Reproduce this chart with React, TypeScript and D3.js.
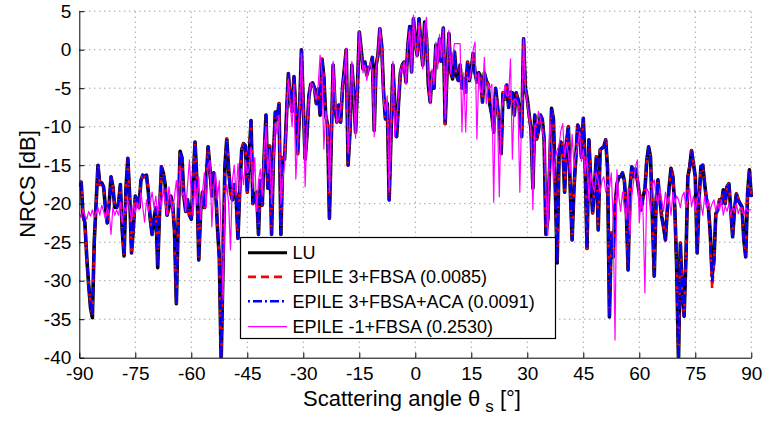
import React, { useEffect, useRef } from 'react';
import * as d3 from 'd3';

// scattering angle grid, 0.5 deg steps from -90 to 90
const angleStep = 0.5;
const angles = d3.range(-90, 90 + angleStep / 2, angleStep);

const xTicks = [-90, -75, -60, -45, -30, -15, 0, 15, 30, 45, 60, 75, 90];
const yTicks = [-40, -35, -30, -25, -20, -15, -10, -5, 0, 5];

const seriesNames = [
  'LU',
  'EPILE 3+FBSA (0.0085)',
  'EPILE 3+FBSA+ACA (0.0091)',
  'EPILE -1+FBSA (0.2530)',
];

// NRCS [dB], one value per 0.5 deg
const lu = [
  -17.8, -17.2, -21.5, -22.5, -27, -30.5, -33.5, -34.8, -25, -20,
  -15, -17.5, -17.3, -17.8, -20.5, -22.5, -20, -16.5, -17.8, -20.5,
  -20.5, -20, -17.5, -23.5, -26.8, -18, -14.1, -19, -26.4, -23,
  -19, -19.5, -20.5, -17, -16.3, -16.5, -16.3, -18.5, -22, -24,
  -22, -20.5, -28.3, -21, -15.2, -16, -17.5, -21.5, -20.5, -19,
  -20, -23.5, -33, -22, -13.2, -14, -19, -21, -19.5, -21.5,
  -22, -17, -12, -17, -27.3, -21, -18.5, -20.5, -17, -12.6,
  -15.5, -19, -16, -18, -23, -27, -40.5, -28, -15.2, -11.6,
  -15.5, -18.5, -19.5, -17.5, -19, -24.5, -18, -13, -12.2, -12.5,
  -18.5, -14, -9.2, -20, -19, -18.5, -24, -17, -20.2, -14,
  -8.5, -18, -12.5, -24, -14, -8.1, -9, -7, -24, -14,
  -14.2, -8.5, -3.1, -6.6, -8, -3.5, -8, -13.5, -8, 0,
  -7.2, -14.2, -11, -6, -4.5, -4.3, -5, -7, -5.1, -8.5,
  -1.2, -3.5, -8.5, -9.8, -21.9, -11.6, -2, -7.5, -9.4, -7.2,
  -9.4, -5, -2.5, 0, -15, -10.7, -2, -5.5, -10.7, -5,
  2.3, 0, -2.5, -1.6, -3.3, -2.3, -2.3, -1, -10.5, -2,
  -0.7, 2.7, 0.5, -5.5, -9, -7, -19.5, -11, -2, -7,
  -11.3, -7, -3, -2, -1.6, -4.2, 0.5, 3, -2.9, 4,
  1, -0.7, 4, 0.6, -2, 3.6, 1.5, -4.6, -6.8, -2.9,
  -5, 0.6, -1.6, 1.4, -1.5, 2.8, -9.6, -3, 2.1, -2.9,
  -3.8, -0.3, -3.3, -4, -2, -5, -3.8, -5.5, -1.6, -4,
  -2.5, -0.5, -3, -4.2, -3, -3.5, -6.8, -3, -4, -4.5,
  -7.2, -8.5, -10.7, -5, -7.2, -9.8, -13.5, -5.6, -6.4, -4.6,
  -7.5, -5.5, -5.6, -8.5, -5.6, -6.4, -8.2, -11.3, 1.4, -5,
  -6.4, -8.5, -10.3, -18, -8.5, -11.6, -10.5, -8.5, -9, -11.6,
  -24, -22, -15, -7.6, -9, -18, -27.7, -13.7, -12, -12.4,
  -18.5, -12, -10, -18, -24.7, -18, -14, -9.8, -10.5, -14,
  -8.9, -15.2, -25.8, -11.7, -17, -21.2, -17.8, -13.9, -23.4, -13,
  -12.8, -12.6, -11.7, -15.5, -34.7, -23.8, -26.9, -20.4, -17.5, -16.5,
  -16.5, -16, -17, -20.5, -28.6, -18, -15.2, -16.5, -15.5, -17,
  -18.7, -20.8, -19.1, -18.2, -14.4, -12.6, -13.9, -21.7, -29.4, -19.5,
  -16.9, -19.5, -21.7, -23, -24.7, -20.8, -17.8, -15.4, -16.5, -20.4,
  -28.1, -40.5, -25.1, -31.6, -34.6, -26.9, -16.5, -15.2, -13.1, -14.8,
  -16.5, -26.4, -19.5, -15.2, -15, -17.4, -19.5, -20.4, -23.8, -29.4,
  -27.3, -21.3, -20.8, -19.5, -20, -18.2, -20, -17.8, -17.4, -20.8,
  -24.3, -20.8, -18.7, -19.5, -20, -20.4, -24.7, -26.9, -18.7, -15.6,
  -19.1,
];

const epile3 = [
  -17.8, -17.2, -21.5, -22.5, -27, -30.5, -33.2, -34.3, -25, -20,
  -15, -17.5, -17.3, -17.8, -20.5, -22.5, -20, -16.5, -17.8, -20.5,
  -20.5, -20, -17.5, -23.5, -26.5, -18, -14.1, -19, -26.2, -23,
  -19, -19.5, -20.5, -17, -16.3, -16.5, -16.3, -18.5, -22, -24,
  -22, -20.5, -28, -21, -15.2, -16, -17.5, -21.5, -20.5, -19,
  -20, -23.5, -33, -22, -13.2, -14, -19, -21, -19.5, -21.5,
  -22, -17, -12, -17, -27.3, -21, -18.5, -20.5, -17, -12.6,
  -15.5, -19, -16, -18, -23, -27, -40.5, -28, -15.2, -11.6,
  -15.5, -18.5, -19.5, -17.5, -19, -24.5, -18, -13, -12.2, -12.5,
  -18.5, -14, -9.2, -20, -19, -18.5, -24, -17, -20.2, -14,
  -8.5, -18, -12.5, -24, -14, -8.1, -9, -7, -24, -14,
  -14.2, -8.5, -3.1, -6.6, -8, -3.5, -8, -13.5, -8, 0,
  -7.2, -14.2, -11, -6, -4.5, -4.3, -5, -7, -5.1, -8.5,
  -1.2, -3.5, -8.5, -9.8, -21.9, -11.6, -2, -7.5, -9.4, -7.2,
  -9.4, -5, -2.5, 0, -15, -10.7, -2, -5.5, -10.7, -5,
  2.3, 0, -2.5, -1.6, -3.3, -2.3, -2.3, -1, -10.5, -2,
  -0.7, 2.7, 0.5, -5.5, -9, -7, -19.5, -11, -2, -7,
  -11.3, -7, -3, -2, -1.6, -4.2, 0.5, 3, -2.9, 4,
  1, -0.7, 4, 0.6, -2, 3.6, 1.5, -4.6, -6.8, -2.9,
  -5, 0.6, -1.6, 1.4, -1.5, 2.8, -9.6, -3, 2.1, -2.9,
  -3.8, -0.3, -3.3, -4, -2, -5, -3.8, -5.5, -1.6, -4,
  -2.5, -0.5, -3, -4.2, -3, -3.5, -6.8, -3, -4, -4.5,
  -7.2, -8.5, -10.7, -5, -7.2, -9.8, -13.5, -5.6, -6.4, -4.6,
  -7.5, -5.5, -5.6, -8.5, -5.6, -6.4, -8.2, -11.3, 1.4, -5,
  -6.4, -8.5, -10.3, -18, -8.5, -11.6, -10.5, -8.5, -9, -11.6,
  -24, -22, -15, -7.6, -9, -18, -27.7, -13.7, -12, -12.4,
  -18.5, -12, -10, -18, -24.7, -18, -14, -9.8, -10.5, -14,
  -8.9, -15.2, -25.8, -11.7, -17, -21.2, -17.8, -13.9, -23.4, -13,
  -12.8, -12.6, -11.7, -15.5, -34.5, -23.8, -26.9, -20.4, -17.5, -16.5,
  -16.5, -16, -17, -20.5, -28.6, -18, -15.2, -16.5, -15.5, -17,
  -18.7, -20.8, -19.1, -18.2, -14.4, -12.6, -13.9, -21.7, -29.4, -19.5,
  -16.9, -19.5, -21.7, -23, -24.7, -20.8, -17.8, -15.4, -16.5, -20.4,
  -28.1, -40.5, -25.1, -31.6, -34.6, -26.9, -16.5, -15.2, -13.1, -14.8,
  -16.5, -26.4, -19.5, -15.2, -15, -17.4, -19.5, -20.4, -24.5, -31,
  -28, -21.3, -20.8, -19.5, -20, -18.2, -20, -17.8, -17.4, -20.8,
  -24.3, -20.8, -18.7, -19.5, -20, -20.4, -24.7, -26.9, -18.7, -15.6,
  -19.1,
];

const epile3Aca = [
  -17.8, -17.2, -21.5, -22.5, -27, -30.5, -33.3, -34.5, -25, -20,
  -15, -17.5, -17.3, -17.8, -20.5, -22.5, -20, -16.5, -17.8, -20.5,
  -20.5, -20, -17.5, -23.5, -26.6, -18, -14.1, -19, -26.3, -23,
  -19, -19.5, -20.5, -17, -16.3, -16.5, -16.3, -18.5, -22, -24,
  -22, -20.5, -28.2, -21, -15.2, -16, -17.5, -21.5, -20.5, -19,
  -20, -23.5, -33, -22, -13.2, -14, -19, -21, -19.5, -21.5,
  -22, -17, -12, -17, -27.3, -21, -18.5, -20.5, -17, -12.6,
  -15.5, -19, -16, -18, -23, -27, -40.5, -28, -15.2, -11.6,
  -15.5, -18.5, -19.5, -17.5, -19, -24.5, -18, -13, -12.2, -12.5,
  -18.5, -14, -9.2, -20, -19, -18.5, -24, -17, -20.2, -14,
  -8.5, -18, -12.5, -24, -14, -8.1, -9, -7, -24, -14,
  -14.2, -8.5, -3.1, -6.6, -8, -3.5, -8, -13.5, -8, 0,
  -7.2, -14.2, -11, -6, -4.5, -4.3, -5, -7, -5.1, -8.5,
  -1.2, -3.5, -8.5, -9.8, -21.9, -11.6, -2, -7.5, -9.4, -7.2,
  -9.4, -5, -2.5, 0, -15, -10.7, -2, -5.5, -10.7, -5,
  2.3, 0, -2.5, -1.6, -3.3, -2.3, -2.3, -1, -10.5, -2,
  -0.7, 2.7, 0.5, -5.5, -9, -7, -19.5, -11, -2, -7,
  -11.3, -7, -3, -2, -1.6, -4.2, 0.5, 3, -2.9, 4,
  1, -0.7, 4, 0.6, -2, 3.6, 1.5, -4.6, -6.8, -2.9,
  -5, 0.6, -1.6, 1.4, -1.5, 2.8, -9.6, -3, 2.1, -2.9,
  -3.8, -0.3, -3.3, -4, -2, -5, -3.8, -5.5, -1.6, -4,
  -2.5, -0.5, -3, -4.2, -3, -3.5, -6.8, -3, -4, -4.5,
  -7.2, -8.5, -10.7, -5, -7.2, -9.8, -13.5, -5.6, -6.4, -4.6,
  -7.5, -5.5, -5.6, -8.5, -5.6, -6.4, -8.2, -11.3, 1.4, -5,
  -6.4, -8.5, -10.3, -18, -8.5, -11.6, -10.5, -8.5, -9, -11.6,
  -24, -22, -15, -7.6, -9, -18, -27.7, -13.7, -12, -12.4,
  -18.5, -12, -10, -18, -24.7, -18, -14, -9.8, -10.5, -14,
  -8.9, -15.2, -25.8, -11.7, -17, -21.2, -17.8, -13.9, -23.4, -13,
  -12.8, -12.6, -11.7, -15.5, -34.6, -23.8, -26.9, -20.4, -17.5, -16.5,
  -16.5, -16, -17, -20.5, -28.6, -18, -15.2, -16.5, -15.5, -17,
  -18.7, -20.8, -19.1, -18.2, -14.4, -12.6, -13.9, -21.7, -29.4, -19.5,
  -16.9, -19.5, -21.7, -23, -24.7, -20.8, -17.8, -15.4, -16.5, -20.4,
  -28.1, -40.5, -25.1, -31.6, -34.6, -26.9, -16.5, -15.2, -13.1, -14.8,
  -16.5, -26.4, -19.5, -15.2, -15, -17.4, -19.5, -20.4, -24, -30,
  -27.6, -21.3, -20.8, -19.5, -20, -18.2, -20, -17.8, -17.4, -20.8,
  -24.3, -20.8, -18.7, -19.5, -20, -20.4, -24.7, -26.9, -18.7, -15.6,
  -19.1,
];

const epileM1 = [
  -21.2, -21.8, -20.8, -21.5, -22, -21, -21.6, -20.8, -21.8, -21.2,
  -20.5, -21.5, -20.2, -21, -22, -20.5, -21.2, -24, -20.5, -21.5,
  -20.8, -21.5, -19.8, -22.5, -20.5, -21, -19.5, -20.5, -22.3, -20,
  -21.2, -19.8, -20.8, -18.5, -20.5, -22.4, -19.5, -21, -20, -18.5,
  -20.5, -19, -21.5, -19, -20.5, -18, -20, -21.5, -17.8, -19.5,
  -21, -19, -17, -20.5, -15.4, -19, -18.5, -21, -17.5, -14.3,
  -19, -21.5, -17, -20, -16.5, -22, -18.5, -16, -20.5, -15,
  -14.4, -23, -18, -16, -19.5, -17, -24, -32.5, -19.5, -17.5,
  -20, -26, -17, -15, -19, -14.8, -18.5, -15.5, -17.5, -14.3,
  -16, -15.5, -12.6, -18, -14, -21, -17, -15.5, -19, -13,
  -10, -16, -13, -20, -15, -9.5, -11, -8.5, -20, -16.8,
  -15, -9, -3.8, -7, -10, -4.5, -16.8, -12, -7.5, -0.5,
  -8, -17.8, -10, -6.5, -4.3, -4.5, -5.5, -6.5, -4.5, -0.7,
  -3, -12.9, -8, -10, -18.5, -10, -1.5, -5.5, -9.5, -9,
  -7.5, -4.5, -3, 0.2, -13.5, -9, -1.5, -6, -11.5, -4.5,
  2.3, -0.3, -3, -2, -4, -2.5, -1.5, -3, -11.3, -2.5,
  -0.5, 2.9, 0, -7, -8, -6, -18.5, -10, -1.5, -11.3,
  -9, -6, -2.5, -3, -1.5, -4.5, 0.8, 2.5, -3, 4.5,
  0.5, -1, 3.5, 0.2, -2.5, 3, 4.2, -4, -7, -2.5,
  -4.5, 1, -2.5, 2, -1, 2.8, -9, -2.5, 2.5, -3,
  -1, 0.8, 0.8, 0.8, 0.8, -10.7, -3, -10.7, -3.5, -4,
  -2.5, 0, 1, -11.6, -3, -5.5, -5.6, -1, -7, -4.5,
  -5, -4.5, -19.8, -6, -8, -19.1, -8, -6.4, -4.6, -6,
  -6, -1.2, -14.2, -6.4, -6.5, -7, -18.5, -8, 1.4, -5,
  -7, -9, -10.5, -20.8, -10, -9.5, -8, -9, -10.5, -11.6,
  -18.5, -24.1, -9, -12, -17, -14, -13, -12.5, -10.5, -9.6,
  -14, -12, -13.5, -16, -11, -15, -13.5, -12.5, -10.7, -14.5,
  -13, -16, -14, -19.5, -16, -17.5, -18.5, -16, -17, -18.6,
  -17, -16.5, -18.5, -17.5, -18, -16, -22, -37.7, -15.6, -19,
  -21, -18.5, -20.5, -22, -18, -24, -19, -17, -15.2, -14.3,
  -22.5, -19, -21, -31.6, -18, -18.5, -21, -17.5, -16.9, -19,
  -20, -18, -19.5, -21, -18.5, -20, -19, -21.5, -18.5, -20,
  -19, -19.5, -20.5, -19, -18.5, -20.5, -19.5, -18, -20.4, -19,
  -21, -19.5, -18.5, -20, -21.5, -19, -20.5, -19.5, -20.8, -20,
  -19.5, -21, -20, -20.8, -19.5, -21.5, -20.3, -21, -20, -21.5,
  -20.5, -21, -20, -21.3, -20.5, -20.8, -21.5, -20.5, -21, -20.8,
  -20.8,
];

const FONT = "'Liberation Sans', Arial, Helvetica, sans-serif";

export default function App() {
  const svgRef = useRef(null);

  useEffect(() => {
    if (!svgRef.current) return;
    const width = 764;
    const height = 421;

    d3.select(svgRef.current).selectAll('*').remove();
    const svg = d3.select(svgRef.current)
      .attr('width', width)
      .attr('height', height);

    const x = d3.scaleLinear().domain([-90, 90]).range([79.3, 751.3]);
    const y = d3.scaleLinear().domain([-40, 5]).range([357.7, 11.2]);

    svg.append('rect').attr('width', width).attr('height', height).attr('fill', '#fff');

    // dotted grid
    const grid = svg.append('g')
      .attr('stroke', '#7a7a7a')
      .attr('stroke-width', 1)
      .attr('stroke-dasharray', '1,4');
    grid.selectAll('.vg')
      .data(xTicks.slice(1))
      .enter()
      .append('line')
      .attr('x1', d => x(d)).attr('x2', d => x(d))
      .attr('y1', y(-40)).attr('y2', y(5));
    grid.selectAll('.hg')
      .data(yTicks.slice(1))
      .enter()
      .append('line')
      .attr('x1', x(-90)).attr('x2', x(90))
      .attr('y1', d => y(d)).attr('y2', d => y(d));

    // plot data
    svg.append('clipPath').attr('id', 'plot-clip')
      .append('rect')
      .attr('x', x(-90)).attr('y', y(5) - 2)
      .attr('width', x(90) - x(-90) + 2)
      .attr('height', y(-40) - y(5) + 2);

    const line = d3.line()
      .x((d, i) => x(angles[i]))
      .y(d => y(d));

    const styles = [
      { values: lu, color: '#000000', width: 3.6, dash: null },
      { values: epile3, color: '#ff0000', width: 2.6, dash: '8,5' },
      { values: epile3Aca, color: '#0000ff', width: 2.6, dash: '2,3,9,3' },
      { values: epileM1, color: '#ff00ff', width: 1.2, dash: null },
    ];

    const plot = svg.append('g').attr('clip-path', 'url(#plot-clip)');
    styles.forEach(s => {
      plot.append('path')
        .datum(s.values)
        .attr('d', line)
        .attr('fill', 'none')
        .attr('stroke', s.color)
        .attr('stroke-width', s.width)
        .attr('stroke-linejoin', 'round')
        .attr('stroke-dasharray', s.dash);
    });

    // axes (plain hyphen minus in labels)
    const fmt = d => String(d);
    const xAxis = svg.append('g')
      .attr('transform', `translate(0,${y(-40)})`)
      .call(d3.axisBottom(x).tickValues(xTicks).tickFormat(fmt).tickSize(-5).tickSizeOuter(0).tickPadding(9));
    const yAxis = svg.append('g')
      .attr('transform', `translate(${x(-90)},0)`)
      .call(d3.axisLeft(y).tickValues(yTicks).tickFormat(fmt).tickSize(-5).tickSizeOuter(0).tickPadding(8));
    [xAxis, yAxis].forEach(a => {
      a.attr('font-family', FONT).attr('font-size', 19);
      a.select('.domain').attr('stroke', '#000');
      a.selectAll('.tick line').attr('stroke', '#000');
      a.selectAll('.tick text').attr('fill', '#000');
    });

    // axis titles
    const xTitle = svg.append('text')
      .attr('x', 412)
      .attr('y', 406)
      .attr('text-anchor', 'middle')
      .attr('font-family', FONT)
      .attr('font-size', 22)
      .attr('fill', '#000');
    xTitle.append('tspan').text('Scattering angle θ');
    xTitle.append('tspan').attr('dx', 5).attr('dy', 6).attr('font-size', 17).text('s');
    xTitle.append('tspan').attr('dy', -6).text(' [°]');

    svg.append('text')
      .attr('transform', 'translate(35,184) rotate(-90)')
      .attr('text-anchor', 'middle')
      .attr('font-family', FONT)
      .attr('font-size', 22)
      .attr('fill', '#000')
      .text('NRCS [dB]');

    // legend
    const legend = svg.append('g');
    legend.append('rect')
      .attr('x', 240.5).attr('y', 237.5)
      .attr('width', 315).attr('height', 101)
      .attr('fill', '#fff')
      .attr('stroke', '#000')
      .attr('stroke-width', 1.2);
    const rowY = [252.7, 276.9, 301.2, 326.6];
    styles.forEach((s, i) => {
      legend.append('line')
        .attr('x1', 248).attr('x2', 287)
        .attr('y1', rowY[i]).attr('y2', rowY[i])
        .attr('stroke', s.color)
        .attr('stroke-width', s.width === 3.6 ? 3 : s.width)
        .attr('stroke-dasharray', s.dash);
      legend.append('text')
        .attr('x', 292.5)
        .attr('y', rowY[i])
        .attr('dy', '0.35em')
        .attr('font-family', FONT)
        .attr('font-size', 18)
        .attr('fill', '#000')
        .text(seriesNames[i]);
    });
  }, []);

  return (
    <div style={{ position: 'absolute', left: 0, top: 0 }}>
      <svg ref={svgRef} style={{ display: 'block' }}></svg>
    </div>
  );
}
